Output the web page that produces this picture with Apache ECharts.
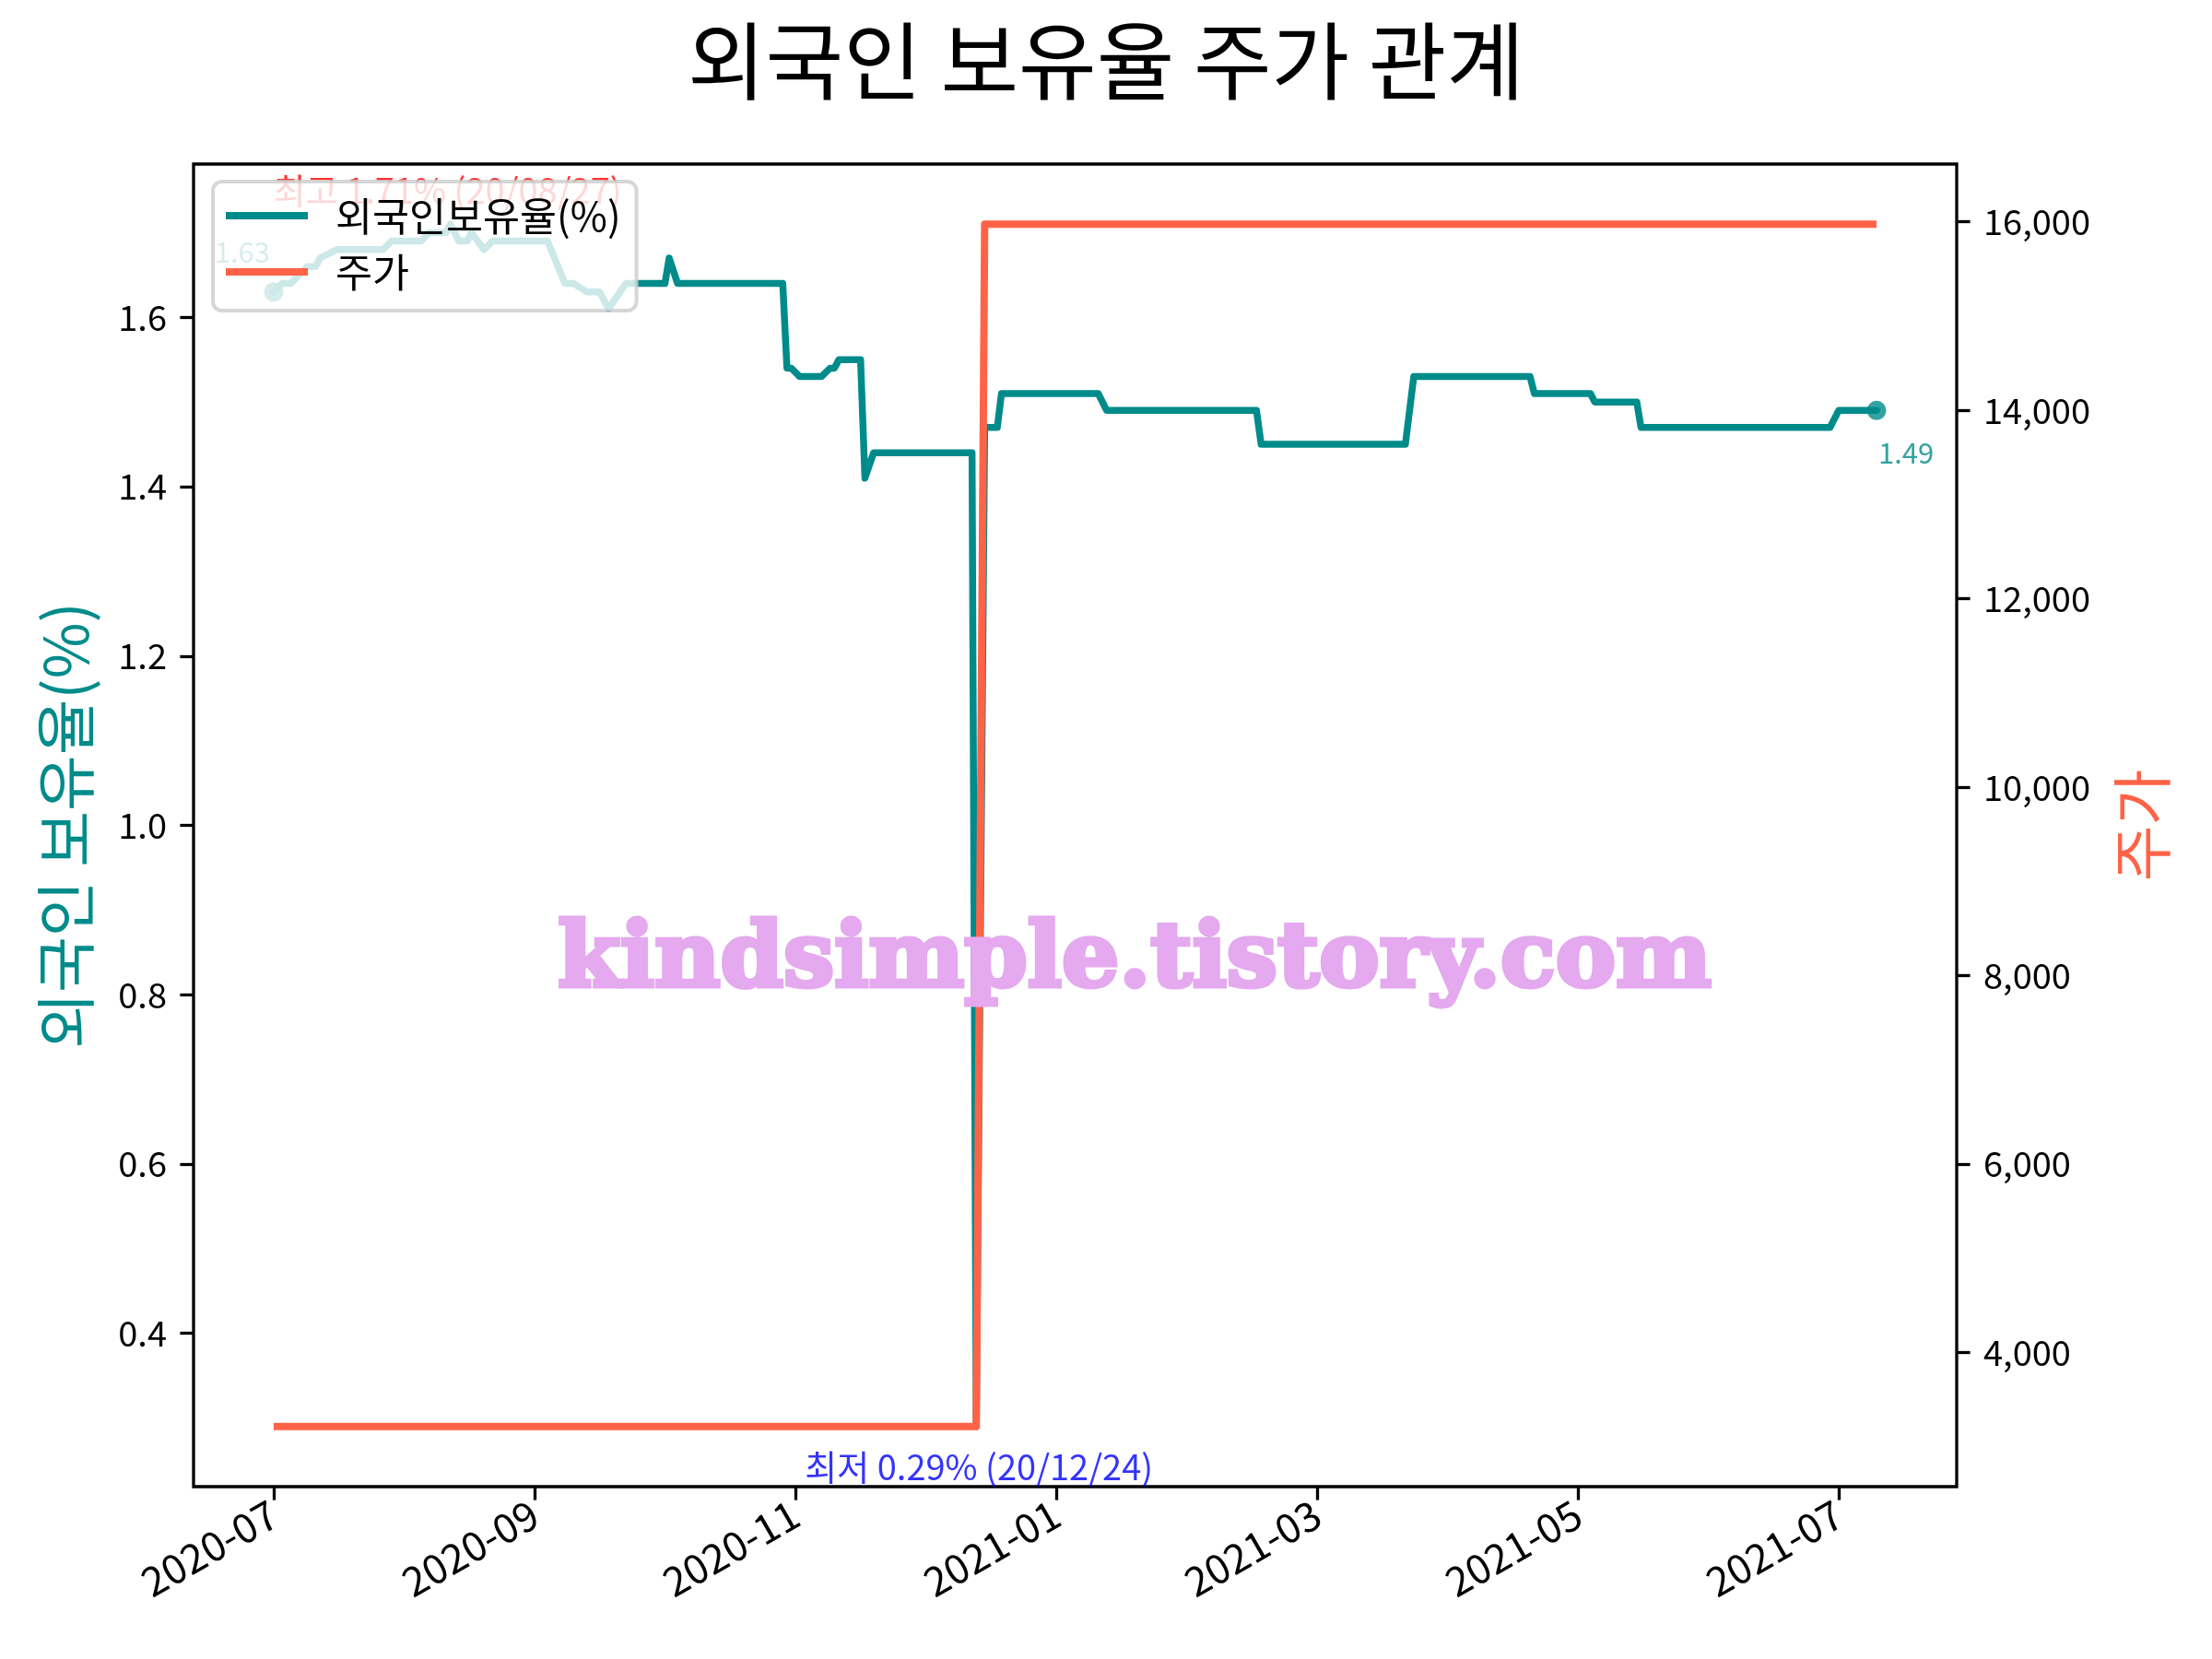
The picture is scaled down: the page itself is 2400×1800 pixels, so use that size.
<!DOCTYPE html>
<html><head><meta charset="utf-8">
<script src="https://cdn.jsdelivr.net/npm/echarts@6/dist/echarts.min.js"></script>
<style>html,body{margin:0;padding:0;background:#fff}#c{width:2400px;height:1800px}</style>
</head><body><div id="c"></div>
<script>
// ---- data ----
const titleText = '외국인 보유율 주가 관계';
const holdName = '외국인보유율(%)';
const priceName = '주가';
const xTickLabels = ['2020-07','2020-09','2020-11','2021-01','2021-03','2021-05','2021-07'];
const leftTicks = [0.4, 0.6, 0.8, 1.0, 1.2, 1.4, 1.6];
const rightTicks = [4000, 6000, 8000, 10000, 12000, 14000, 16000];

const holdDates = [
 '2020-07-01','2020-07-03','2020-07-05','2020-07-09','2020-07-11','2020-07-12','2020-07-16','2020-07-27',
 '2020-07-29','2020-08-05','2020-08-07','2020-08-11','2020-08-12','2020-08-14','2020-08-16','2020-08-17',
 '2020-08-20','2020-08-22','2020-09-04','2020-09-08','2020-09-10','2020-09-13','2020-09-16','2020-09-18',
 '2020-09-22','2020-10-01','2020-10-02','2020-10-04','2020-10-29','2020-10-30','2020-10-31','2020-11-02',
 '2020-11-07','2020-11-09','2020-11-10','2020-11-11','2020-11-16','2020-11-17','2020-11-19','2020-12-12',
 '2020-12-13','2020-12-15','2020-12-18','2020-12-19','2021-01-11','2021-01-13','2021-02-16','2021-02-17',
 '2021-03-22','2021-03-24','2021-04-20','2021-04-21','2021-05-04','2021-05-05','2021-05-15','2021-05-16',
 '2021-06-29','2021-07-01','2021-07-10'
];
const holdValues = [
 1.63,1.64,1.64,1.66,1.66,1.67,1.68,1.68,
 1.69,1.69,1.70,1.70,1.71,1.69,1.69,1.70,
 1.68,1.69,1.69,1.64,1.64,1.63,1.63,1.61,
 1.64,1.64,1.67,1.64,1.64,1.54,1.54,1.53,
 1.53,1.54,1.54,1.55,1.55,1.41,1.44,1.44,
 0.29,1.47,1.47,1.51,1.51,1.49,1.49,1.45,
 1.45,1.53,1.53,1.51,1.51,1.50,1.50,1.47,
 1.47,1.49,1.49
];
const priceDates = ['2020-07-01','2020-12-13','2020-12-15','2021-07-10'];
const priceValues = [3215, 3215, 15975, 15975];

const maxText = '최고 1.71% (20/08/27)';
const minText = '최저 0.29% (20/12/24)';

// ---- helpers ----
function monthPos(s){
  const p = s.split('-').map(Number);
  const y = p[0], m = p[1], d = p[2] || 1;
  const dim = new Date(y, m, 0).getDate();
  return (y - 2020) * 12 + (m - 7) + (d - 1) / dim;
}
function padExtent(arr){
  const mn = Math.min(...arr), mx = Math.max(...arr), r = mx - mn;
  return [mn - 0.05 * r, mx + 0.05 * r];
}
const xTicks = xTickLabels.map(s => monthPos(s + '-01'));
const holdData = holdDates.map((d, i) => [monthPos(d), holdValues[i]]);
const priceData = priceDates.map((d, i) => [monthPos(d), priceValues[i]]);
const xExt = padExtent(holdData.map(p => p[0]).concat(priceData.map(p => p[0])));
const lExt = padExtent(holdValues);
const rExt = padExtent(priceValues);

let iMax = 0, iMin = 0;
holdValues.forEach((v, i) => { if (v > holdValues[iMax]) iMax = i; if (v < holdValues[iMin]) iMin = i; });
const last = holdData.length - 1;

const FONT = "'Noto Sans CJK KR', 'Noto Sans', sans-serif";
const TEAL = '#008B8B', TOMATO = '#FF6347';

const chart = echarts.init(document.getElementById('c'), null, {renderer: 'canvas'});
chart.setOption({
  animation: false,
  backgroundColor: '#fff',
  textStyle: {fontFamily: FONT},
  title: {
    text: titleText, left: 'center', top: 15,
    textStyle: {fontFamily: FONT, fontSize: 92, fontWeight: 'normal', color: '#000'}
  },
  grid: {left: 210, right: 277, top: 178, bottom: 187, show: true, borderColor: '#000', borderWidth: 3.3, backgroundColor: 'transparent'},
  legend: {
    orient: 'vertical', left: 231, top: 197,
    data: [holdName, priceName],
    icon: 'rect', itemWidth: 89, itemHeight: 8, itemGap: 17,
    padding: [15, 17, 20, 14],
    backgroundColor: 'rgba(255,255,255,0.8)',
    borderColor: 'rgba(204,204,204,0.8)', borderWidth: 4, borderRadius: 10,
    textStyle: {fontFamily: FONT, fontSize: 43.5, color: '#000', lineHeight: 44, padding: [0, 0, 0, 25]}
  },
  xAxis: {
    type: 'value', min: xExt[0], max: xExt[1],
    splitLine: {show: false},
    axisLine: {show: false, onZero: false},
    axisTick: {show: true, length: 14.6, lineStyle: {color: '#000', width: 3.3}, customValues: xTicks},
    axisLabel: {
      customValues: xTicks, rotate: 30, margin: 26, fontSize: 44, color: '#000', fontFamily: FONT,
      formatter: v => { const i = xTicks.findIndex(t => Math.abs(t - v) < 1e-6); return i >= 0 ? xTickLabels[i] : ''; }
    }
  },
  yAxis: [{
    type: 'value', position: 'left', min: lExt[0], max: lExt[1],
    name: '외국인 보유율(%)', nameLocation: 'middle', nameRotate: 90, nameGap: 106,
    nameTextStyle: {color: TEAL, fontSize: 66, fontFamily: FONT},
    splitLine: {show: false}, axisLine: {show: false, onZero: false},
    axisTick: {show: true, length: 14.6, lineStyle: {color: '#000', width: 3.3}, customValues: leftTicks},
    axisLabel: {customValues: leftTicks, margin: 29, fontSize: 38, color: '#000', fontFamily: FONT, formatter: v => v.toFixed(1)}
  }, {
    type: 'value', position: 'right', min: rExt[0], max: rExt[1],
    name: priceName, nameLocation: 'middle', nameRotate: 90, nameGap: 168,
    nameTextStyle: {color: TOMATO, fontSize: 66, fontFamily: FONT},
    splitLine: {show: false}, axisLine: {show: false, onZero: false},
    axisTick: {show: true, length: 14.6, lineStyle: {color: '#000', width: 3.3}, customValues: rightTicks},
    axisLabel: {customValues: rightTicks, margin: 29, fontSize: 38, color: '#000', fontFamily: FONT, formatter: v => v.toLocaleString('en-US')}
  }],
  series: [{
    name: holdName, type: 'line', xAxisIndex: 0, yAxisIndex: 0, data: holdData,
    symbol: 'none', z: 2, color: TEAL,
    lineStyle: {color: TEAL, width: 7.5, join: 'round', cap: 'round'}
  }, {
    name: priceName, type: 'line', xAxisIndex: 0, yAxisIndex: 1, data: priceData,
    symbol: 'none', z: 3, color: TOMATO,
    lineStyle: {color: TOMATO, width: 8, join: 'round', cap: 'butt'}
  }, {
    name: 'ends', type: 'scatter', yAxisIndex: 0, z: 3, symbolSize: 21,
    itemStyle: {color: TEAL},
    data: [
      {value: holdData[0], label: {show: true, position: 'inside', align: 'right', verticalAlign: 'bottom', offset: [-4, -28], formatter: holdValues[0].toFixed(2), color: TEAL, fontSize: 31, fontFamily: FONT}},
      {value: holdData[last], label: {show: true, position: 'inside', align: 'left', verticalAlign: 'top', offset: [2, 30], formatter: holdValues[last].toFixed(2), color: TEAL, fontSize: 31, fontFamily: FONT}}
    ]
  }, {
    name: 'notes', type: 'scatter', yAxisIndex: 0, z: 3, symbolSize: 0,
    data: [
      {value: holdData[iMax], label: {show: true, position: 'inside', align: 'center', verticalAlign: 'bottom', offset: [-3, -18], formatter: maxText, color: '#FF0000', fontSize: 38, fontFamily: FONT}},
      {value: holdData[iMin], label: {show: true, position: 'inside', align: 'center', verticalAlign: 'top', offset: [3, 25], formatter: minText, color: '#0000FF', fontSize: 38, fontFamily: FONT}}
    ]
  }],
  graphic: [{
    type: 'text', z: 100, x: 1231, y: 1045,
    style: {text: 'kindsimple.tistory.com', textAlign: 'center', textVerticalAlign: 'middle',
      font: "bold 98px 'DejaVu Serif'", fill: '#E4A9EE', stroke: '#E4A9EE', lineWidth: 5}
  }]
});
</script></body></html>
